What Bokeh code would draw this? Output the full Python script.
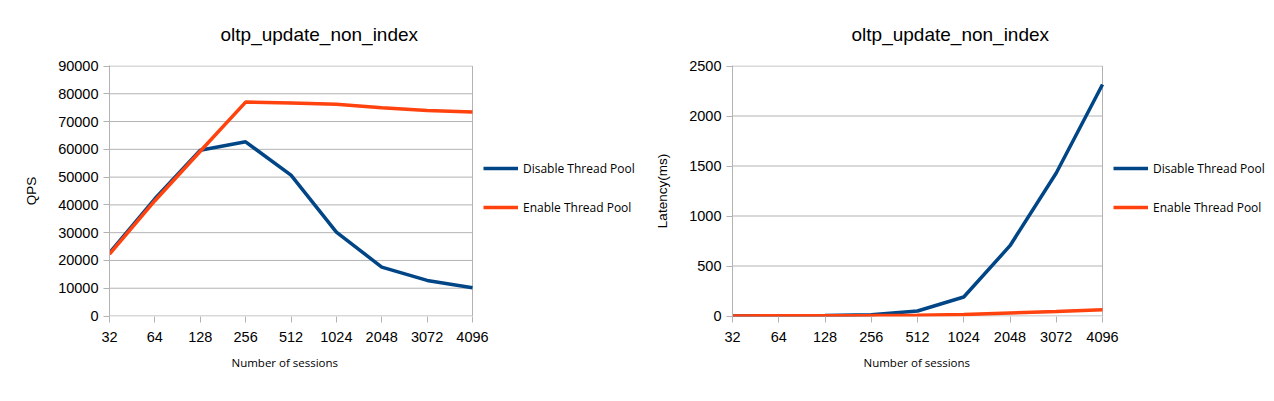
from bokeh.plotting import figure
from bokeh.models import Range1d, FixedTicker, BasicTickFormatter, Legend, Title
from bokeh.layouts import row
from bokeh.embed import file_html
from bokeh.resources import INLINE

sessions = ["32", "64", "128", "256", "512", "1024", "2048", "3072", "4096"]
qps_disable = [22700, 42200, 59700, 62700, 50700, 30200, 17600, 12800, 10200]
qps_enable = [22300, 41500, 59300, 77000, 76700, 76200, 75000, 74000, 73400]
lat_disable = [1, 2, 4, 12, 50, 190, 703, 1430, 2315]
lat_enable = [1, 2, 3, 5, 8, 15, 30, 45, 62]
series_names = ["Disable Thread Pool", "Enable Thread Pool"]
colors = ["#004586", "#ff420e"]
title_text = "oltp_update_non_index"
x_label = "Number of sessions"

xs = list(range(len(sessions)))
GRID = "#b3b3b3"


def make_chart(ydata, ymax, yinterval, ylabel, plot_w, total_fw, border_left,
               title_off, xlabel_off):
    last = xs[-1]
    pad = ymax / 500.0
    p = figure(output_backend="svg", toolbar_location=None,
               frame_width=total_fw, frame_height=251,
               min_border_left=border_left, min_border_right=0,
               min_border_top=65, min_border_bottom=20,
               x_range=Range1d(0, last * total_fw / plot_w),
               y_range=Range1d(-pad, ymax + pad))
    p.title.text = title_text
    p.title.align = "left"
    p.title.offset = title_off
    p.title.text_font = "Liberation Sans"
    p.title.text_font_size = "19px"
    p.title.text_font_style = "normal"
    p.title.text_color = "#000000"
    p.title.standoff = 41
    p.outline_line_color = None
    p.background_fill_color = "white"
    p.border_fill_color = "white"
    p.xgrid.visible = False
    p.ygrid.visible = False

    yticks = list(range(0, ymax + 1, yinterval))
    p.segment(x0=[0] * len(yticks), y0=yticks, x1=[last] * len(yticks), y1=yticks,
              line_color=GRID, line_width=1)
    p.segment(x0=[last], y0=[0], x1=[last], y1=[ymax], line_color=GRID, line_width=1)

    p.xaxis.ticker = FixedTicker(ticks=xs)
    p.xaxis.major_label_overrides = {i: s for i, s in zip(xs, sessions)}
    p.yaxis.ticker = FixedTicker(ticks=yticks)
    p.yaxis.formatter = BasicTickFormatter(use_scientific=False)
    for ax in (p.xaxis[0], p.yaxis[0]):
        ax.axis_line_color = GRID
        ax.major_tick_line_color = GRID
        ax.major_tick_out = 6
        ax.major_tick_in = 0
        ax.minor_tick_line_color = None
        ax.major_label_text_font = "Liberation Sans"
        ax.major_label_text_font_size = "14.5px"
        ax.major_label_text_color = "#000000"
        ax.major_label_standoff = 5
        ax.axis_label_text_font_style = "normal"
        ax.axis_label_text_color = "#000000"
    p.xaxis.axis_line_color = None
    p.xaxis.major_label_standoff = 9
    p.yaxis.axis_label = ylabel
    p.yaxis.axis_label_text_font = "Liberation Sans"
    p.yaxis.axis_label_text_font_size = "13.5px"
    p.yaxis.axis_label_standoff = 16

    xt = Title(text=x_label, align="left", offset=xlabel_off,
               text_font="Open Sans", text_font_size="11.5px",
               text_font_style="normal", text_color="#000000", standoff=16)
    p.add_layout(xt, "below")

    renderers = []
    for ys, c in zip(ydata, colors):
        r = p.line(xs, ys, line_color=c, line_width=3.5)
        renderers.append(r)
    legend = Legend(items=[(n, [r]) for n, r in zip(series_names, renderers)],
                    location=(plot_w + 11, 99), orientation="vertical")
    legend.border_line_color = None
    legend.background_fill_alpha = 0
    legend.glyph_width = 35
    legend.glyph_height = 20
    legend.label_height = 20
    legend.spacing = 19
    legend.label_standoff = 5
    legend.label_text_font = "Open Sans"
    legend.label_text_font_size = "12px"
    legend.label_text_color = "#000000"
    legend.padding = 0
    legend.margin = 0
    p.add_layout(legend, "center")
    return p


p1 = make_chart([qps_disable, qps_enable], 90000, 10000, "QPS",
                363, 531, 109, 111, 122)
p2 = make_chart([lat_disable, lat_enable], 2500, 500, "Latency(ms)",
                370, 538, 92, 119, 131)

layout = row(p1, p2)
open("out.html", "w").write(file_html(layout, INLINE))
